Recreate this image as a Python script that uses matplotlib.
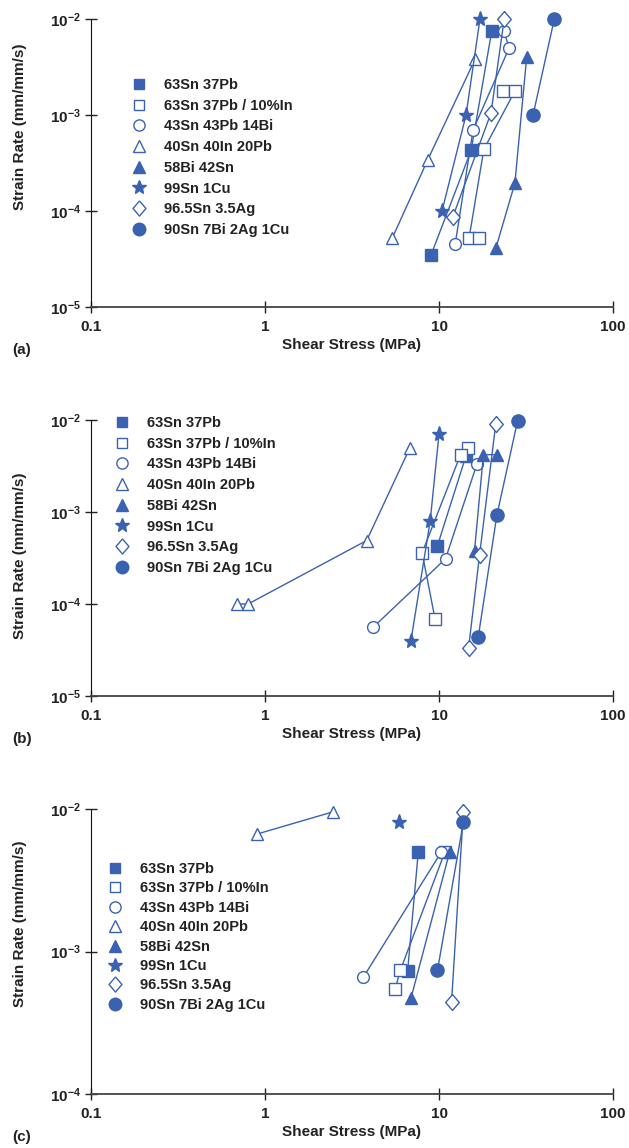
import matplotlib
matplotlib.use('Agg')
import matplotlib.pyplot as plt
from matplotlib.lines import Line2D

plt.rcParams['font.family'] = ['Liberation Sans', 'DejaVu Sans']
plt.rcParams['font.weight'] = 'bold'
plt.rcParams['axes.labelweight'] = 'bold'
plt.rcParams['mathtext.default'] = 'regular'

BLUE = '#3a62b0'
DIAMOND = [(0, 1), (0.85, 0), (0, -1), (-0.85, 0), (0, 1)]

alloys = ['63Sn 37Pb', '63Sn 37Pb / 10%In', '43Sn 43Pb 14Bi', '40Sn 40In 20Pb',
          '58Bi 42Sn', '99Sn 1Cu', '96.5Sn 3.5Ag', '90Sn 7Bi 2Ag 1Cu']
# marker, filled?, size
styles = [('s', True, 8), ('s', False, 8), ('o', False, 8.5), ('^', False, 8.5),
          ('^', True, 8.5), ('*', True, 11), (DIAMOND, False, 11.5), ('o', True, 9.5)]

# (shear stress MPa, strain rate 1/s)
panel_a = {
    '63Sn 37Pb': ([20.1, 15.3, 9.0], [7.5e-3, 4.3e-4, 3.5e-5]),
    '63Sn 37Pb / 10%In': ([23.3, 27.3, 18.1, 14.9, 17.0], [1.78e-3, 1.78e-3, 4.4e-4, 5.3e-5, 5.3e-5]),
    '43Sn 43Pb 14Bi': ([23.6, 25.3, 15.7, 12.4], [7.5e-3, 5.0e-3, 7.0e-4, 4.6e-5]),
    '40Sn 40In 20Pb': ([16.1, 8.6, 5.4], [3.8e-3, 3.4e-4, 5.3e-5]),
    '58Bi 42Sn': ([31.9, 27.3, 21.2], [4.0e-3, 1.96e-4, 4.1e-5]),
    '99Sn 1Cu': ([17.2, 14.3, 10.4], [1.0e-2, 1.0e-3, 1.0e-4]),
    '96.5Sn 3.5Ag': ([23.7, 19.9, 12.0], [1.0e-2, 1.05e-3, 8.7e-5]),
    '90Sn 7Bi 2Ag 1Cu': ([46.0, 34.7], [1.0e-2, 1.0e-3]),
}
panel_b = {
    '63Sn 37Pb': ([14.3, 9.8], [4.1e-3, 4.3e-4]),
    '63Sn 37Pb / 10%In': ([14.6, 13.3, 8.0, 9.5], [5.0e-3, 4.2e-3, 3.6e-4, 6.8e-5]),
    '43Sn 43Pb 14Bi': ([16.5, 10.9, 4.19], [3.3e-3, 3.1e-4, 5.6e-5]),
    '40Sn 40In 20Pb': ([6.81, 3.84, 0.80, 0.69], [5.0e-3, 4.9e-4, 1.0e-4, 1.0e-4]),
    '58Bi 42Sn': ([21.5, 18.0, 16.0], [4.2e-3, 4.2e-3, 3.8e-4]),
    '99Sn 1Cu': ([10.0, 8.9, 6.9], [7.0e-3, 8.0e-4, 4.0e-5]),
    '96.5Sn 3.5Ag': ([21.2, 17.1, 14.8], [9.1e-3, 3.4e-4, 3.35e-5]),
    '90Sn 7Bi 2Ag 1Cu': ([28.3, 21.5, 16.8], [9.8e-3, 9.2e-4, 4.35e-5]),
}
panel_c = {
    '63Sn 37Pb': ([7.6, 6.6], [5.0e-3, 7.3e-4]),
    '63Sn 37Pb / 10%In': ([10.8, 6.0, 5.6], [5.0e-3, 7.4e-4, 5.5e-4]),
    '43Sn 43Pb 14Bi': ([10.3, 3.67], [5.0e-3, 6.6e-4]),
    '40Sn 40In 20Pb': ([2.46, 0.90], [9.6e-3, 6.7e-3]),
    '58Bi 42Sn': ([11.5, 6.9], [5.0e-3, 4.7e-4]),
    '99Sn 1Cu': ([5.9], [8.1e-3]),
    '96.5Sn 3.5Ag': ([13.8, 11.8], [9.5e-3, 4.4e-4]),
    '90Sn 7Bi 2Ag 1Cu': ([13.8, 9.8], [8.1e-3, 7.4e-4]),
}

x_ticks = [0.1, 1, 10, 100]
x_labels = ['0.1', '1', '10', '100']

W, H = 629, 1148
fig = plt.figure(figsize=(W / 100, H / 100), dpi=100)

# pixel layout: (top, bottom, ylim, ylabel y, legend marker x, legend top, row pitch, tag)
panels = [
    (panel_a, 19, 307.3, (1e-5, 1e-2), 0.626, 132, 78, 21.3, '(a)'),
    (panel_b, 420, 696, (1e-5, 1e-2), 0.507, 114.7, 416, 21.3, '(b)'),
    (panel_c, 809.3, 1094, (1e-4, 1e-2), 0.597, 108, 862, 20.0, '(c)'),
]

left, right = 91, 613
for data, top, bot, ylim, ylab_y, leg_x, leg_top, pitch, tag in panels:
    ax = fig.add_axes([left / W, 1 - bot / H, (right - left) / W, (bot - top) / H])
    for name, (mk, filled, ms) in zip(alloys, styles):
        xs, ys = data[name]
        ax.plot(xs, ys, color=BLUE, lw=1.0, marker=mk, ms=ms,
                mfc=BLUE if filled else 'white', mec=BLUE, mew=1.0, clip_on=False)
    ax.set_xscale('log')
    ax.set_yscale('log')
    ax.set_xlim(0.1, 100)
    ax.set_ylim(*ylim)
    ax.set_xticks(x_ticks, x_labels)
    ax.minorticks_off()
    for s in ['top', 'right']:
        ax.spines[s].set_visible(False)
    ax.spines['left'].set_color('#111111')
    ax.spines['bottom'].set_color('#444444')
    ax.spines['bottom'].set_linewidth(1.3)
    ax.tick_params(direction='inout', length=8, width=1.0, labelsize=11, pad=3,
                   colors='#222222')
    ax.tick_params(axis='x', pad=5)
    ax.set_ylabel('Strain Rate (mm/mm/s)', fontsize=11, color='#222222')
    ax.yaxis.set_label_coords(-0.122, ylab_y)
    ax.set_xlabel('Shear Stress (MPa)', fontsize=11, labelpad=3, color='#222222')
    ax.text(12 / W, 1 - (bot + 43) / H, tag, transform=fig.transFigure,
            fontsize=11, va='center', ha='left', color='#222222')

    handles = []
    for mk, filled, ms in styles:
        handles.append(Line2D([], [], ls='none', marker=mk, ms=ms * 0.95,
                              mfc=BLUE if filled else 'white', mec=BLUE, mew=1.0))
    fs = 10.5
    fs_px = fs * 100 / 72
    leg = ax.legend(handles, alloys, loc='upper left',
                    bbox_to_anchor=(leg_x / W, 1 - leg_top / H),
                    bbox_transform=fig.transFigure, frameon=False, fontsize=fs,
                    handlelength=1.0, handletextpad=1.2, borderpad=0, borderaxespad=0,
                    labelspacing=(pitch - fs_px) / fs_px)
    for t in leg.get_texts():
        t.set_color('#222222')

fig.savefig('out.png', dpi=100)
